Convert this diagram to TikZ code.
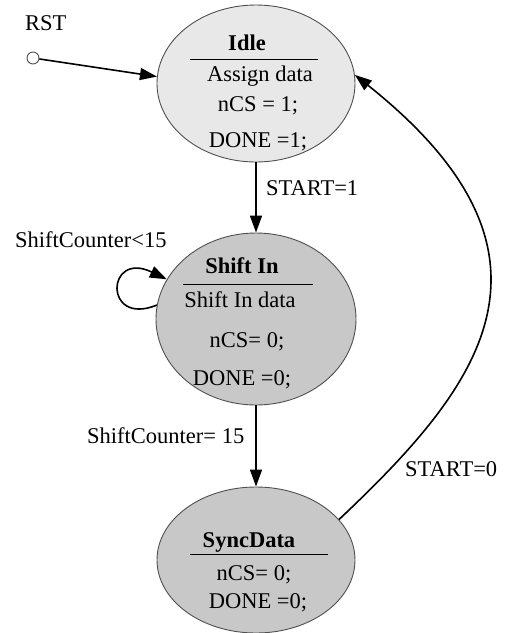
\documentclass[tikz,border=0pt]{standalone}
\usepackage{fontspec}
\setmainfont{Liberation Serif}
\usetikzlibrary{shapes.geometric,arrows.meta}

\definecolor{idlefill}{RGB}{232,232,232}
\definecolor{busyfill}{RGB}{200,200,200}
\definecolor{rimgray}{RGB}{80,80,80}

\tikzset{
  state/.style={ellipse, draw=rimgray, line width=0.9pt, inner sep=0pt},
  txt/.style={inner sep=0pt, anchor=base, font=\fontsize{22.5}{26}\selectfont},
  lbl/.style={inner sep=0pt, anchor=base west, font=\fontsize{22.5}{26}\selectfont},
  ttl/.style={txt, font=\fontsize{22.5}{26}\selectfont\bfseries},
  rule/.style={line width=0.9pt},
  trans/.style={line width=1.6pt, -{Triangle[length=17pt,width=12pt]}},
}

\begin{document}
\begin{tikzpicture}[x=1pt,y=-1pt]
\useasboundingbox (0,0) rectangle (507,633);

% states
\node[state, fill=idlefill, minimum width=198pt, minimum height=157pt] (idle) at (256,83.5) {};
\node[state, fill=busyfill, minimum width=200pt, minimum height=172pt] (shift) at (256,319) {};
\node[state, fill=busyfill, minimum width=198pt, minimum height=146pt] (sync) at (256,560) {};

% Idle contents
\node[ttl] (idleT) at (247,50) {Idle};
\draw[rule] (190,59) -- (318,59);
\node[txt] (idleA) at (260,81) {Assign data};
\node[txt] (idleB) at (258,111) {nCS = 1;};
\node[txt] (idleC) at (258,147) {DONE =1;};

% Shift In contents
\node[ttl] (shiftT) at (242,273) {Shift In};
\draw[rule] (183,284) -- (313,284);
\node[txt] (shiftA) at (240,307) {Shift In data};
\node[txt] (shiftB) at (247,347) {nCS= 0;};
\node[txt] (shiftC) at (242,385) {DONE =0;};

% SyncData contents
\node[ttl] (syncT) at (249,547) {SyncData};
\draw[rule] (190,554) -- (328,554);
\node[txt] (syncA) at (254,580) {nCS= 0;};
\node[txt] (syncB) at (258,608) {DONE =0;};

% reset entry
\node[lbl] (rstT) at (25,30) {RST};
\node[circle, draw=rimgray, line width=0.9pt, fill=white, minimum size=12pt, inner sep=0pt] (rst) at (33,58) {};
\draw[trans] (rst) -- (idle.176);

% transitions
\draw[trans] (idle.south) -- (shift.north);
\node[lbl] (l1) at (266,195) {START=1};

\draw[trans] (shift.172) .. controls (103,327) and (106,250) .. (shift.156);
\node[lbl] (l2) at (15,247) {ShiftCounter<15};

\draw[trans] (shift.south) -- (sync.north);
\node[lbl] (l3) at (87,443) {ShiftCounter= 15};

\draw[trans] (sync.26) .. controls (476,390) and (585,258) .. (idle.5);
\node[lbl] (l4) at (405,476) {START=0};
\end{tikzpicture}
\end{document}
